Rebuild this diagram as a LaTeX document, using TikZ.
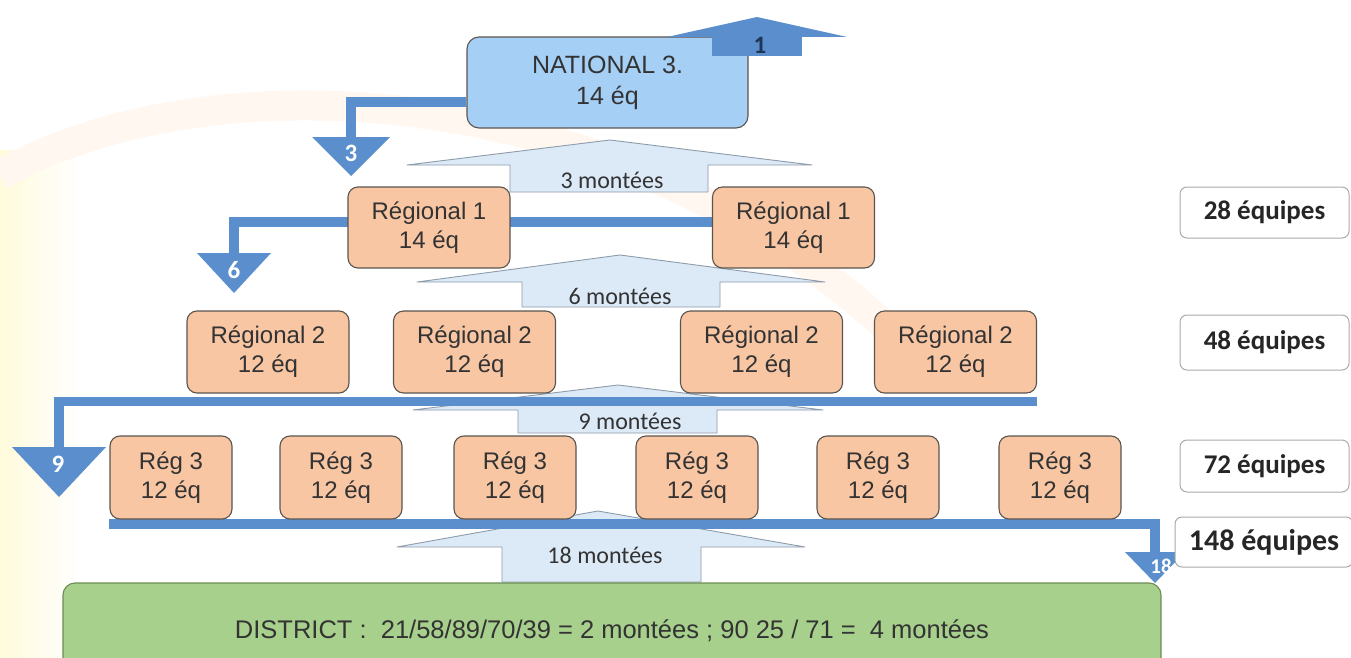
\documentclass[tikz,border=0pt]{standalone}
\usepackage{fontspec}
\setmainfont{Liberation Sans}
\newfontfamily\carl{Carlito}
\definecolor{peach}{HTML}{F8C6A3}
\definecolor{natblue}{HTML}{A6CFF5}
\definecolor{boxline}{HTML}{5B5550}
\definecolor{relblue}{HTML}{5A8ECC}
\definecolor{upfill}{HTML}{DCE9F7}
\definecolor{upline}{HTML}{8E9BAA}
\definecolor{distgreen}{HTML}{A8D08D}
\definecolor{distline}{HTML}{6B8B55}
\definecolor{txt}{HTML}{333333}
\definecolor{totline}{HTML}{AAAAAA}
\definecolor{navy}{HTML}{1F3556}
\pgfdeclarelayer{back0}
\pgfdeclarelayer{bg}
\pgfsetlayers{back0,bg,main}
\begin{document}
\begin{tikzpicture}[x=1pt,y=-1pt,
  box/.style={draw=boxline, line width=1.1pt, rounded corners=10pt, align=center,
    inner sep=0pt, font=\fontsize{24}{29}\selectfont, text=txt},
  reg/.style={box, fill=peach},
  nat/.style={box, fill=natblue, font=\fontsize{25}{31}\selectfont, rounded corners=12pt},
  dist/.style={box, fill=distgreen, draw=distline, rounded corners=12pt,
    font=\fontsize{25.5}{30}\selectfont},
  tot/.style={draw=totline, line width=1pt, fill=white, rounded corners=7pt,
    inner sep=0pt, text=black!85, font=\carl\bfseries\fontsize{27}{32}\selectfont},
  relbar/.style={draw=relblue, line width=9.5pt},
  relhead/.style={fill=relblue},
  rellab/.style={text=white, inner sep=0pt, font=\carl\bfseries\fontsize{25}{27}\selectfont},
  upar/.style={fill=upfill, draw=upline, line width=0.9pt, line join=round},
  uplab/.style={font=\carl\fontsize{24}{28}\selectfont, text=txt}
]
\useasboundingbox (0,0) rectangle (1351,658);

% main boxes
\node[nat, minimum width=281pt, minimum height=91pt] (nat) at (607.5,82.5) {NATIONAL 3.\\14 éq};

\node[reg, minimum width=162pt, minimum height=81pt] (r11) at (429,227.5) {Régional 1\\14 éq};
\node[reg, minimum width=162pt, minimum height=81pt] (r12) at (793.5,227.5) {Régional 1\\14 éq};

\foreach \n/\x in {1/268,2/474.5,3/761.5,4/955.5}
  \node[reg, minimum width=162pt, minimum height=82pt] (r2\n) at (\x,352) {Régional 2\\12 éq};

\foreach \n/\x in {1/171,2/341,3/515,4/697,5/878,6/1060}
  \node[reg, minimum width=122pt, minimum height=83pt] (r3\n) at (\x,477.5) {Rég 3\\12 éq};

\node[dist, minimum width=1098pt, minimum height=95pt] (dist) at (612,630.5)
  {DISTRICT :\ \ 21/58/89/70/39 = 2 montées ; 90 25 / 71 =\ \ 4 montées};

% totals
\node[tot, minimum width=169pt, minimum height=51pt] (t28) at (1264.5,212.5) {28 équipes};
\node[tot, minimum width=169pt, minimum height=55pt] (t48) at (1264.5,342.5) {48 équipes};
\node[tot, minimum width=169pt, minimum height=52pt] (t72) at (1264.5,466) {72 équipes};

% watermark and promotion arrows
\begin{pgfonlayer}{back0}
  \fill[white] (0,0) rectangle (1351,658);
  \shade[left color=orange!22!yellow!45, right color=white, opacity=0.3] (0,150) rectangle (80,658);
  \draw[line width=30pt, orange!6] (0,175) .. controls (200,60) and (620,70) .. (900,340);
  % 3 montees
  \draw[upar] (407,165) -- (610,140) -- (812,165) -- (708,165) -- (708,192) -- (510,192) -- (510,165) -- cycle;
  \node[uplab] (m3) at (612,180) {3 montées};
  % 6 montees
  \draw[upar] (417,282) -- (620,255) -- (825,282) -- (720,282) -- (720,307) -- (522,307) -- (522,282) -- cycle;
  \node[uplab] (m6) at (620,296) {6 montées};
  % 9 montees
  \draw[upar] (413,410) -- (618,385) -- (823,410) -- (717,410) -- (717,433) -- (518,433) -- (518,410) -- cycle;
  \node[uplab] (m9) at (630,421) {9 montées};
  % 18 montees
  \draw[upar] (397,547) -- (598,511) -- (805,547) -- (701,547) -- (701,582) -- (502,582) -- (502,547) -- cycle;
  \node[uplab] (m18) at (605,555) {18 montées};
\end{pgfonlayer}

% relegation arrows
\begin{pgfonlayer}{bg}
  \coordinate (h3) at (351,137);
  \coordinate (h6) at (234,253);
  \coordinate (h9) at (59,447);
  \coordinate (h18) at (1155,552);
  \draw[relbar] (nat.west |- 0,102) -| (h3);
  \fill[relhead] (h3) ++(-39,0) -- ++(78,0) -- ++(-39,39) -- cycle;
  \node[rellab] at (351,153) {3};
  \draw[relbar] (r12.west |- 0,222) -| (h6);
  \fill[relhead] (h6) ++(-37,0) -- ++(74,0) -- ++(-37,40) -- cycle;
  \node[rellab] at (234,270) {6};
  \draw[relbar] (r24.south east |- 0,401.5) -| (h9);
  \fill[relhead] (h9) ++(-47,0) -- ++(94,0) -- ++(-47,50) -- cycle;
  \node[rellab] at (58,464) {9};
  \draw[relbar] (r31.south west |- 0,524) -| (h18);
  \fill[relhead] (h18) ++(-30,0) -- ++(60,0) -- ++(-30,31) -- cycle;
\end{pgfonlayer}

\node[tot, minimum width=178pt, minimum height=50pt, font=\carl\bfseries\fontsize{30}{34}\selectfont] (t148) at (1264,542) {148 équipes};
\node[rellab, font=\carl\bfseries\fontsize{21}{23}\selectfont] (l18) at (1161,566) {18};

% arrow 1 (to upper level)
\coordinate (h1) at (757,17);
\fill[relhead] (712,56) rectangle (802,36);
\fill[relhead] (h1) -- (847,37) -- (667,37) -- cycle;
\node[text=navy, inner sep=0pt, font=\carl\bfseries\fontsize{25}{27}\selectfont] (l1) at (760,45) {1};
\end{tikzpicture}
\end{document}
